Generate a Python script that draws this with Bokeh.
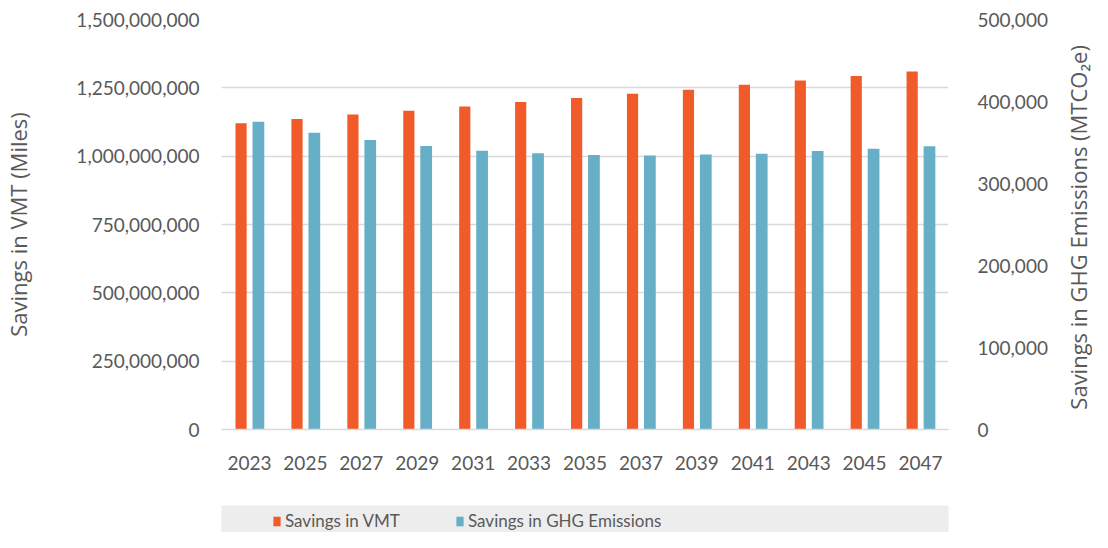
import math
from bokeh.plotting import figure
from bokeh.models import (FactorRange, Range1d, LinearAxis, FixedTicker, NumeralTickFormatter,
                          Legend, LegendItem, ColumnDataSource, Label)
from bokeh.transform import dodge
from bokeh.layouts import column, row
from bokeh.embed import file_html
from bokeh.resources import INLINE

years = ["2023", "2025", "2027", "2029", "2031", "2033", "2035", "2037", "2039", "2041", "2043", "2045", "2047"]
vmt_savings = [1120e6, 1136e6, 1152e6, 1166e6, 1182e6, 1198e6, 1213e6, 1228e6, 1243e6, 1261e6, 1277e6, 1293e6, 1310e6]
ghg_savings = [375400, 362000, 353000, 345800, 340000, 336800, 334800, 334000, 335500, 336400, 339700, 342500, 345300]
left_ticks = [0, 250e6, 500e6, 750e6, 1000e6, 1250e6, 1500e6]
right_ticks = [0, 100000, 200000, 300000, 400000, 500000]
left_title = "Savings in VMT (Miles)"
right_title = "Savings in GHG Emissions  (MTCO\u2082e)"
series_names = ["Savings in VMT", "Savings in GHG Emissions"]

ORANGE = "#F15A29"
BLUE = "#67AFC7"
TEXT = "#595959"
GRID = "#d9d9d9"
FONT = "Lato"
TITLE_FONT = "Open Sans"

src = ColumnDataSource(dict(year=years, vmt=vmt_savings, ghg=ghg_savings))

p = figure(width=1062, height=505, x_range=FactorRange(factors=years, range_padding=0),
           y_range=Range1d(0, 1.5e9), output_backend="svg", toolbar_location=None,
           min_border_left=214, min_border_right=114, min_border_top=19, min_border_bottom=76)
p.extra_y_ranges = {"right": Range1d(0, 500000)}

r_vmt = p.vbar(x=dodge("year", -0.15, range=p.x_range), top="vmt", width=0.2, source=src,
               fill_color=ORANGE, line_color=None)
r_ghg = p.vbar(x=dodge("year", 0.16, range=p.x_range), top="ghg", width=0.21, source=src,
               fill_color=BLUE, line_color=None, y_range_name="right")

p.outline_line_color = None
p.xgrid.grid_line_color = None
p.ygrid.grid_line_color = GRID
p.ygrid.grid_line_width = 1.5
p.ygrid.ticker = FixedTicker(ticks=left_ticks)

p.xaxis.axis_line_color = GRID
p.xaxis.axis_line_width = 1.5
p.xaxis.major_tick_line_color = None
p.xaxis.minor_tick_line_color = None
p.xaxis.major_label_standoff = 20
p.xaxis.major_label_text_font = FONT
p.xaxis.major_label_text_font_size = "19px"
p.xaxis.major_label_text_color = TEXT

yl = p.yaxis[0]
yl.ticker = FixedTicker(ticks=left_ticks)
yl.formatter = NumeralTickFormatter(format="0,0")
yl.axis_line_color = None
yl.major_tick_line_color = None
yl.minor_tick_line_color = None
yl.major_label_standoff = 16
yl.major_label_text_font = FONT
yl.major_label_text_font_size = "19px"
yl.major_label_text_color = TEXT
yl.axis_label = left_title
yl.axis_label_text_font = TITLE_FONT
yl.axis_label_text_font_size = "22px"
yl.axis_label_text_font_style = "normal"
yl.axis_label_text_color = TEXT
yl.axis_label_standoff = 40

yr = LinearAxis(y_range_name="right", ticker=FixedTicker(ticks=right_ticks),
                formatter=NumeralTickFormatter(format="0,0"))
yr.axis_line_color = None
yr.major_tick_line_color = None
yr.minor_tick_line_color = None
yr.major_label_standoff = 23
yr.major_label_text_font = FONT
yr.major_label_text_font_size = "19px"
yr.major_label_text_color = TEXT
p.add_layout(yr, "right")

# narrow strip on the right that carries the right-hand title, reading bottom to top
tf = figure(width=30, height=505, x_range=Range1d(0, 1), y_range=Range1d(0, 1),
            x_axis_type=None, y_axis_type=None, output_backend="svg", toolbar_location=None,
            min_border_left=0, min_border_right=0, min_border_top=19, min_border_bottom=76)
tf.outline_line_color = None
tf.grid.visible = False
tf.add_layout(Label(x=0.5, y=0.5, text=right_title, angle=math.pi / 2, angle_units="rad",
                    text_align="center", text_baseline="middle",
                    text_font=TITLE_FONT, text_font_size="22px", text_color=TEXT))

# legend strip below the chart
lf = figure(width=1062, height=27, x_range=p.x_range, y_range=Range1d(0, 1),
            x_axis_type=None, y_axis_type=None, output_backend="svg", toolbar_location=None,
            min_border_left=214, min_border_right=114, min_border_top=0, min_border_bottom=0)
lf.background_fill_color = "#ededed"
lf.border_fill_color = "white"
lf.outline_line_color = None
lf.grid.visible = False
d1 = lf.vbar(x="year", top=0, bottom=0, width=0, source=src, fill_color=ORANGE, line_color=None)
d2 = lf.vbar(x="year", top=0, bottom=0, width=0, source=src, fill_color=BLUE, line_color=None)

for rend, label, xloc in [(d1, series_names[0], 51), (d2, series_names[1], 234)]:
    lg = Legend(items=[LegendItem(label=label, renderers=[rend])], location=(xloc, 1),
                padding=0, margin=0, glyph_width=9, glyph_height=12, label_standoff=4,
                label_text_font=FONT, label_text_font_size="17px", label_text_color=TEXT,
                background_fill_alpha=0, border_line_color=None, label_height=20)
    lf.add_layout(lg)

layout = row(column(p, lf), tf)
open("out.html", "w").write(file_html(layout, INLINE))
